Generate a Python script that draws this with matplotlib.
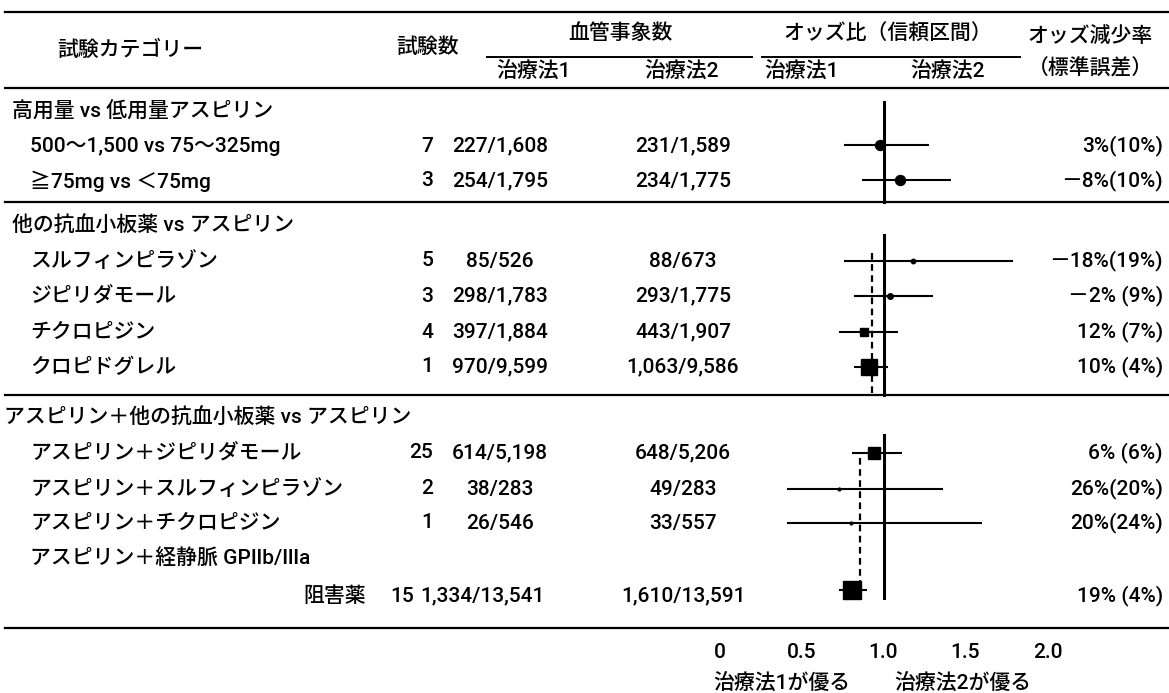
import matplotlib
matplotlib.use('Agg')
import matplotlib.pyplot as plt

plt.rcParams['font.family'] = ['Roboto', 'Noto Sans CJK JP', 'DejaVu Sans']

# ---------------- data ----------------
sections = ['高用量 vs 低用量アスピリン',
            '他の抗血小板薬 vs アスピリン',
            'アスピリン＋他の抗血小板薬 vs アスピリン']
row_labels = ['500～1,500 vs 75～325mg',
              '≧75mg vs ＜75mg',
              'スルフィンピラゾン',
              'ジピリダモール',
              'チクロピジン',
              'クロピドグレル',
              'アスピリン＋ジピリダモール',
              'アスピリン＋スルフィンピラゾン',
              'アスピリン＋チクロピジン',
              'アスピリン＋経静脈 GPⅡb/Ⅲa\n阻害薬']
n_trials = ['7', '3', '5', '3', '4', '1', '25', '2', '1', '15']
events1 = ['227/1,608', '254/1,795', '85/526', '298/1,783', '397/1,884',
           '970/9,599', '614/5,198', '38/283', '26/546', '1,334/13,541']
events2 = ['231/1,589', '234/1,775', '88/673', '293/1,775', '443/1,907',
           '1,063/9,586', '648/5,206', '49/283', '33/557', '1,610/13,591']
odds = [0.98, 1.10, 1.18, 1.04, 0.88, 0.91, 0.94, 0.73, 0.80, 0.81]
ci_lo = [0.76, 0.87, 0.76, 0.82, 0.73, 0.82, 0.81, 0.41, 0.41, 0.73]
ci_hi = [1.28, 1.41, 1.79, 1.30, 1.09, 1.03, 1.11, 1.36, 1.60, 0.90]
weights = [9, 9, 4, 5, 8, 14, 10, 2.5, 2.5, 16]
reduction = ['3%(10%)', '－8%(10%)', '－18%(19%)', '－2% (9%)', '12% (7%)',
             '10% (4%)', '6% (6%)', '26%(20%)', '20%(24%)', '19% (4%)']
pooled = {1: 0.93, 2: 0.855}
xticks = [0, 0.5, 1.0, 1.5, 2.0]
xtick_labels = ['0', '0.5', '1.0', '1.5', '2.0']

# ---------------- layout ----------------
W, H = 1169, 693
fig = plt.figure(figsize=(W / 100, H / 100), dpi=100)
bg = fig.add_axes([0, 0, 1, 1])
bg.set_xlim(0, W)
bg.set_ylim(H, 0)
bg.axis('off')

px0, ppu = 719.5, 164.0
fa = fig.add_axes([0, 0, 1, 1])
fa.set_xlim(-px0 / ppu, (W - px0) / ppu)
fa.set_ylim(H, 0)
fa.axis('off')
fa.patch.set_alpha(0)

FS = 15
kw = dict(fontsize=FS, fontweight='medium', color='black')

# rules
lw_rule = 1.6
for y in [12, 88, 202, 395, 628]:
    bg.plot([5, W], [y, y], color='black', lw=lw_rule)
bg.plot([487, 752], [57, 57], color='black', lw=1.4)
bg.plot([762, 1020], [57, 57], color='black', lw=1.4)

# headers
bg.text(130, 50, '試験カテゴリー', ha='center', va='center', **kw)
bg.text(428, 47, '試験数', ha='center', va='center', **kw)
bg.text(620, 33, '血管事象数', ha='center', va='center', **kw)
bg.text(534, 71, '治療法1', ha='center', va='center', **kw)
bg.text(682, 71, '治療法2', ha='center', va='center', **kw)
bg.text(888, 33, 'オッズ比（信頼区間）', ha='center', va='center', **kw)
bg.text(802, 71, '治療法1', ha='center', va='center', **kw)
bg.text(948, 71, '治療法2', ha='center', va='center', **kw)
bg.text(1090, 37, 'オッズ減少率', ha='center', va='center', **kw)
bg.text(1090, 68, '（標準誤差）', ha='center', va='center', **kw)

sec_y = [112, 225, 417]
sec_x = [12, 12, 4]
row_y = [146, 181, 261, 296, 332, 367, 453, 489, 523, 596]
mark_y = [145, 180, 261, 296, 332, 367, 453, 489, 523, 590]
square_rows = {4, 5, 6, 9}

for s, (t, x, y) in enumerate(zip(sections, sec_x, sec_y)):
    bg.text(x, y, t, ha='left', va='center', **kw)

for i in range(len(row_labels)):
    y = row_y[i]
    lab = row_labels[i]
    if '\n' in lab:
        l1, l2 = lab.split('\n')
        bg.text(30, 558, l1, ha='left', va='center', **kw)
        bg.text(366, y, l2, ha='right', va='center', **kw)
        bg.text(414, y, n_trials[i], ha='right', va='center', **kw)
        bg.text(420, y, events1[i], ha='left', va='center', **kw)
        bg.text(746, y, events2[i], ha='right', va='center', **kw)
    else:
        bg.text(30, y, lab, ha='left', va='center', **kw)
        bg.text(433, y, n_trials[i], ha='right', va='center', **kw)
        bg.text(500, y, events1[i], ha='center', va='center', **kw)
        bg.text(683, y, events2[i], ha='center', va='center', **kw)
    bg.text(1163, y, reduction[i], ha='right', va='center', **kw)

# forest marks
for i in range(len(odds)):
    y = mark_y[i]
    fa.plot([ci_lo[i], ci_hi[i]], [y, y], color='black', lw=1.5, solid_capstyle='butt')
    m = 's' if i in square_rows else 'o'
    fa.plot([odds[i]], [y], marker=m, ms=weights[i] * 0.8, color='black', mec='black')

# reference lines per section
fa.plot([1.0, 1.0], [102, 202], color='black', lw=2.2)
fa.plot([1.0, 1.0], [235, 395], color='black', lw=2.2)
fa.plot([1.0, 1.0], [435, 598], color='black', lw=2.2)
fa.plot([pooled[1], pooled[1]], [253, 393], color='black', lw=1.6, ls=(0, (3, 2)))
fa.plot([pooled[2], pooled[2]], [458, 598], color='black', lw=1.6, ls=(0, (3, 2)))

for v, t in zip(xticks, xtick_labels):
    fa.text(v, 652, t, ha='center', va='center', **kw)
bg.text(782, 683, '治療法1が優る', ha='center', va='center', **kw)
bg.text(963, 683, '治療法2が優る', ha='center', va='center', **kw)

fig.savefig('out.png', dpi=100)
